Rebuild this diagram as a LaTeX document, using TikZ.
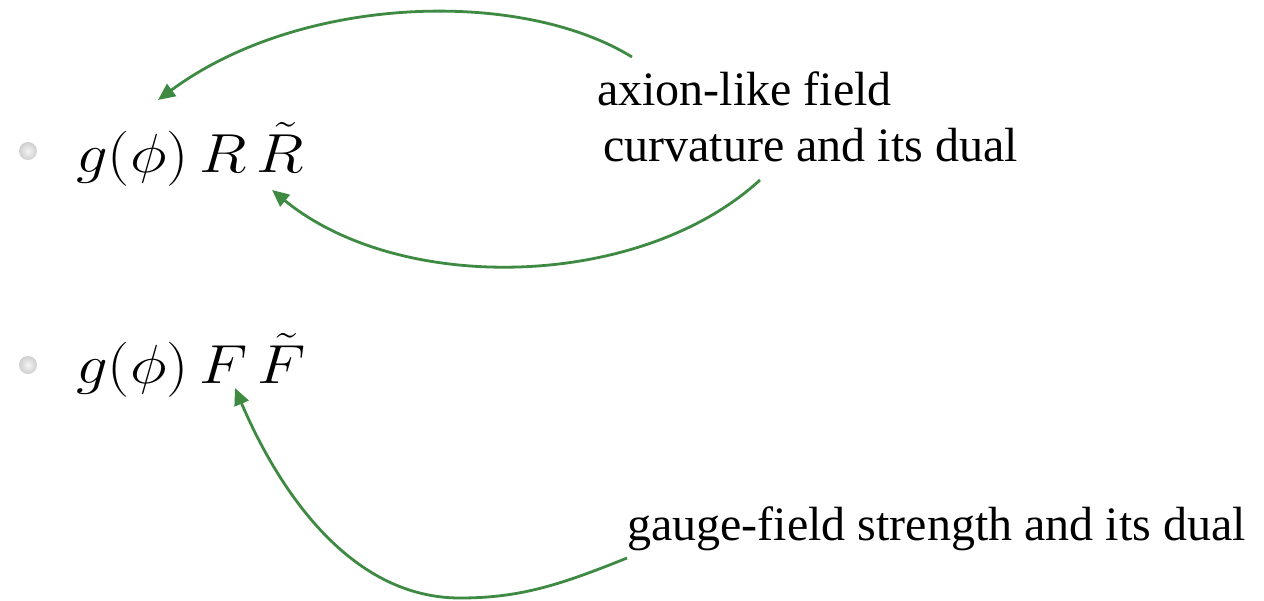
\RequirePackage{fix-cm}
\documentclass[tikz,border=0pt]{standalone}
\usepackage{graphicx}
\usepackage[no-math]{fontspec}
\setmainfont{Liberation Serif}
\usetikzlibrary{arrows.meta}
\definecolor{arrowgreen}{RGB}{62,138,66}
\begin{document}
\begin{tikzpicture}[x=1pt,y=-1pt,
  lbl/.style={anchor=base west,inner sep=0pt,font=\fontsize{48}{56}\selectfont},
  formula/.style={anchor=base west,inner sep=0pt,font=\fontsize{55}{60}\selectfont},
  bul/.style={inner color=gray!8,outer color=gray!38},
  conn/.style={draw=arrowgreen,line width=2.8pt,-{Triangle[length=17pt,width=15pt]}}]
\useasboundingbox[fill=white] (0,0) rectangle (1264,600);
% bullets
\shade[bul] (28,151) circle (9);
\shade[bul] (28,365) circle (9);
% formulas
\node[formula] (f1) at (76,172) {\scalebox{1.14}[1]{$g(\phi)\,R\,\tilde{R}$}};
\node[formula] (f2) at (76,383) {\scalebox{1.14}[1]{$g(\phi)\,F\,\tilde{F}$}};
% labels
\node[lbl] (axion) at (597,105) {axion-like field};
\node[lbl] (curv) at (603,161) {curvature and its dual};
\node[lbl] (gauge) at (627,540) {gauge-field strength and its dual};
% arrow anchor coordinates
\coordinate (sA) at (632,57);
\coordinate (tA) at (158,100);
\coordinate (sB) at (760,180);
\coordinate (tB) at (272,190);
\coordinate (sC) at (627,558);
\coordinate (mC) at (460,598);
\coordinate (tC) at (235,388);
% connectors
\draw[conn] (sA) .. controls (520,-12) and (300,-5) .. (tA);
\draw[conn] (sB) .. controls (640,290) and (400,295) .. (tB);
\draw[conn] (sC) .. controls (560,585) and (520,598) .. (mC) .. controls (340,598) and (270,470) .. (tC);
\end{tikzpicture}
\end{document}
